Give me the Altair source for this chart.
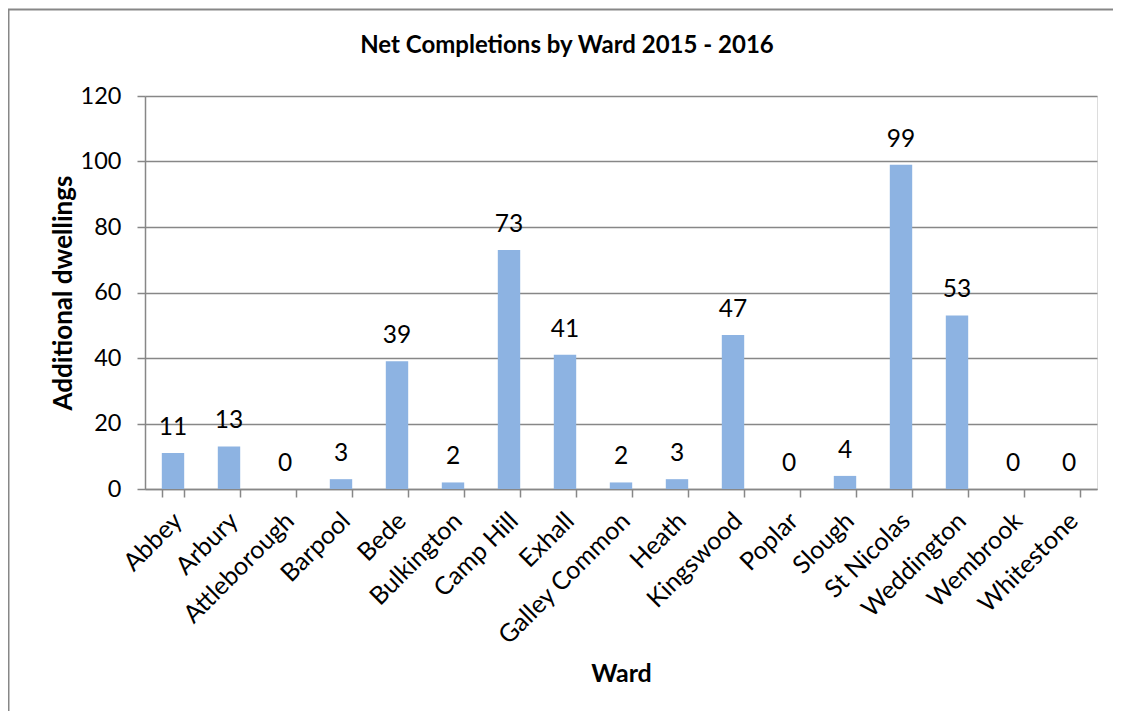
import altair as alt
import pandas as pd

wards = ["Abbey", "Arbury", "Attleborough", "Barpool", "Bede", "Bulkington",
         "Camp Hill", "Exhall", "Galley Common", "Heath", "Kingswood", "Poplar",
         "Slough", "St Nicolas", "Weddington", "Wembrook", "Whitestone"]
completions = [11, 13, 0, 3, 39, 2, 73, 41, 2, 3, 47, 0, 4, 99, 53, 0, 0]
y_ticks = [0, 20, 40, 60, 80, 100, 120]

df = pd.DataFrame({"Ward": wards, "Completions": completions})

FONT = "Lato"
GREY = "#878787"
W, H = 952, 393

x_enc = alt.X("Ward:N", sort=wards,
              scale=alt.Scale(paddingInner=0.6, paddingOuter=0.3),
              axis=alt.Axis(title="Ward", labelAngle=-45, labelAlign="right",
                            labelBaseline="top", labelPadding=11, labelOffset=-4,
                            labelFontSize=25, labelFont=FONT, labelColor="black",
                            tickBand="extent", tickSize=8, tickColor=GREY,
                            domainColor=GREY, domainWidth=1.5, tickWidth=1.5,
                            titleFont=FONT, titleFontSize=25, titleFontWeight="bold",
                            titleColor="black", titleY=184, titleBaseline="middle",
                            grid=False))
y_enc = alt.Y("Completions:Q",
              scale=alt.Scale(domain=[0, 120], nice=False),
              axis=alt.Axis(title="Additional dwellings", values=y_ticks,
                            labelFontSize=23.5, labelFont=FONT, labelColor="black",
                            labelPadding=16, tickSize=8, tickColor=GREY,
                            tickWidth=1.5, domainColor=GREY, domainWidth=1.5,
                            grid=True, gridColor=GREY, gridWidth=1.5,
                            titleFont=FONT, titleFontSize=26, titleFontWeight="bold",
                            titleColor="black", titleX=-82, titleY=H / 2,
                            titleBaseline="middle", titleAngle=-90))

bars = alt.Chart(df).mark_bar(color="#8DB3E2").encode(x=x_enc, y=y_enc)
labels = alt.Chart(df).mark_text(font=FONT, fontSize=24.5, color="black",
                                 baseline="alphabetic", dy=-18).encode(
    x=alt.X("Ward:N", sort=wards), y="Completions:Q", text="Completions:Q")

border = alt.Chart(pd.DataFrame({"a": [0]})).mark_rect(
    fill=None, stroke=GREY, strokeWidth=2).encode(
    x=alt.value(-136.5), x2=alt.value(W + 60),
    y=alt.value(-86.5), y2=alt.value(H + 400))

chart = alt.layer(border, bars, labels).properties(
    width=W, height=H,
    autosize=alt.AutoSizeParams(type="none"),
    padding={"left": 137, "top": 88, "right": 16, "bottom": 222},
    title=alt.TitleParams("Net Completions by Ward 2015 - 2016", font=FONT,
                          fontSize=24, fontWeight="bold", color="black",
                          anchor="middle", dx=-54, dy=53),
).configure_view(stroke=None).configure(background="white")

chart.save("out.html", embed_options={"renderer": "svg", "actions": False})
